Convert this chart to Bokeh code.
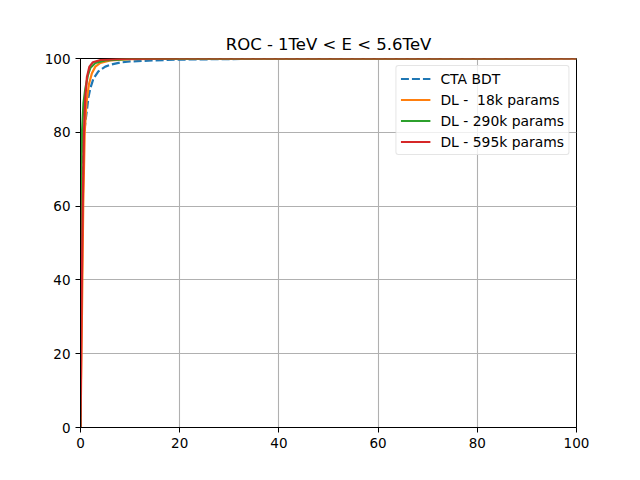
from bokeh.plotting import figure
from bokeh.models import Range1d, FixedTicker, Legend, LegendItem
from bokeh.embed import file_html
from bokeh.resources import INLINE

# ROC curves: x = background efficiency (%), y = signal efficiency (%)
bdt_x = [0, 0.1, 0.3, 0.6, 1.0, 1.3, 1.6, 2.0, 2.6, 3.6, 5.0, 6.3, 8.0, 10.0, 15.0, 20.0, 30.0, 50.0, 100.0]
bdt_y = [0, 30.0, 60.0, 78.0, 83.0, 86.0, 89.5, 92.0, 94.5, 96.5, 97.8, 98.4, 98.9, 99.2, 99.5, 99.7, 99.85, 99.95, 100.0]

dl18_x = [0, 0.15, 0.35, 0.55, 0.85, 1.2, 1.7, 2.3, 3.0, 4.0, 6.0, 10.0, 20.0, 100.0]
dl18_y = [0, 15.0, 37.0, 60.0, 80.0, 88.0, 93.0, 96.0, 97.8, 98.8, 99.5, 99.8, 99.95, 100.0]

dl290_x = [0, 0.05, 0.15, 0.3, 0.6, 1.0, 1.5, 2.0, 3.0, 5.0, 10.0, 100.0]
dl290_y = [0, 30.0, 60.0, 80.0, 88.0, 92.0, 95.5, 97.5, 98.8, 99.5, 99.9, 100.0]

dl595_x = [0, 0.1, 0.25, 0.45, 0.7, 0.95, 1.3, 1.8, 2.5, 4.0, 8.0, 20.0, 100.0]
dl595_y = [0, 15.0, 37.0, 60.0, 80.0, 89.0, 95.0, 97.8, 99.0, 99.6, 99.9, 100.0, 100.0]

ticks = [0, 20, 40, 60, 80, 100]
title_text = "ROC - 1TeV < E < 5.6TeV"
labels = ["CTA BDT", "DL - \u00a018k params", "DL - 290k params", "DL - 595k params"]
colors = ["#1f77b4", "#ff7f0e", "#2ca02c", "#d62728"]

FONT = "DejaVu Sans"

p = figure(width=624, height=464, output_backend="svg", toolbar_location=None,
           x_range=Range1d(0, 100), y_range=Range1d(0, 100),
           min_border_left=80, min_border_right=48, min_border_top=58, min_border_bottom=37,
           title=title_text)
p.frame_width = 496
p.frame_height = 369

p.title.align = "center"
p.title.text_font = FONT
p.title.text_font_size = "16.5px"
p.title.text_font_style = "normal"
p.title.text_color = "black"

for ax in (p.xaxis, p.yaxis):
    ax.ticker = FixedTicker(ticks=ticks)
    ax.major_label_text_font = FONT
    ax.major_label_text_font_size = "13.5px"
    ax.major_label_text_color = "black"
    ax.axis_line_color = "black"
    ax.major_tick_line_color = "black"
    ax.major_tick_out = 5
    ax.major_tick_in = 0
    ax.minor_tick_line_color = None

p.outline_line_color = "black"
p.outline_line_width = 1
p.grid.grid_line_color = "#b0b0b0"
p.grid.grid_line_width = 1.1
p.grid.ticker = FixedTicker(ticks=ticks)

r0 = p.line(bdt_x, bdt_y, color=colors[0], line_width=2.2, line_dash="8 3")
r1 = p.line(dl18_x, dl18_y, color=colors[1], line_width=2.2)
r2 = p.line(dl290_x, dl290_y, color=colors[2], line_width=2.2)
r3 = p.line(dl595_x, dl595_y, color=colors[3], line_width=2.2)

legend = Legend(items=[LegendItem(label=l, renderers=[r]) for l, r in zip(labels, [r0, r1, r2, r3])],
                location="top_right")
legend.margin = 7
legend.padding = 4
legend.spacing = 4
legend.glyph_width = 30
legend.glyph_height = 17
legend.label_standoff = 10
legend.label_text_font = FONT
legend.label_text_font_size = "13.9px"
legend.label_text_color = "black"
legend.border_line_color = "#cccccc"
legend.border_line_width = 1
legend.background_fill_alpha = 0.8
legend.border_radius = 3
p.add_layout(legend, "center")

open("out.html", "w").write(file_html(p, INLINE))
